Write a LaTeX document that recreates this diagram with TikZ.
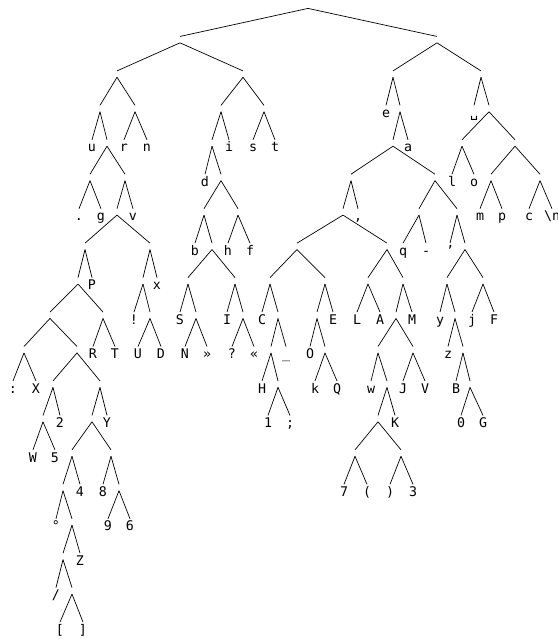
\documentclass[tikz,border=0pt]{standalone}
\usepackage{fontspec}
\newfontfamily\tfmono{DejaVu Sans Mono}
\tikzset{
  ibox/.style={inner sep=0pt, minimum height=6pt, minimum width=0pt, anchor=north, text height=0pt, text depth=0pt},
  lbox/.style={inner sep=0pt, anchor=north, text height=12pt, text depth=3pt, font=\tfmono\fontsize{13.3}{16}\selectfont},
  conn/.style={line width=0.7pt, black}
}
\newcommand\mkIn[3]{\node[ibox] (#1) at (#2,{2+34.45*#3}) {};}
\newcommand\mkLf[4]{\node[lbox] (#1) at (#2,{2+34.45*#3}) {#4};}
\newcommand\mkEd[3]{\draw[conn] (#1.south) -- (#2.north); \draw[conn] (#1.south) -- (#3.north);}
\begin{document}
\begin{tikzpicture}[x=1pt,y=-1pt]
\useasboundingbox (0,0) rectangle (557,639);
% level 0-3
\mkIn{R}{308}{0}
\mkIn{A}{180}{1} \mkIn{B}{437}{1}
\mkIn{Aa}{117}{2} \mkIn{Ab}{243}{2} \mkIn{Ba}{393}{2} \mkIn{Bb}{481}{2}
\mkIn{Aaa}{100}{3} \mkIn{Aab}{135}{3} \mkIn{Aba}{221}{3} \mkIn{Abb}{264}{3}
\mkLf{le}{386}{3}{e} \mkIn{Bab}{400}{3} \mkLf{lsp}{474}{3}{␣} \mkIn{Bbb}{489}{3}
% level 4
\mkLf{lu}{92}{4}{u} \mkIn{Aaab}{107}{4} \mkLf{lr}{124}{4}{r} \mkLf{ln}{147}{4}{n}
\mkIn{Abaa}{212}{4} \mkLf{li}{229}{4}{i} \mkLf{ls}{253}{4}{s} \mkLf{lt}{275}{4}{t}
\mkIn{Baba}{393}{4} \mkLf{la}{408}{4}{a} \mkIn{Bbba}{462}{4} \mkIn{Bbbb}{515}{4}
% level 5
\mkIn{Aaaba}{90}{5} \mkIn{Aaabb}{125}{5} \mkLf{ld}{205}{5}{d} \mkIn{Abaab}{221}{5}
\mkIn{Babaa}{351}{5} \mkIn{Babab}{435}{5} \mkLf{ll}{452}{5}{l} \mkLf{lo}{474}{5}{o}
\mkIn{Bbbba}{491}{5} \mkIn{Bbbbb}{540}{5}
% level 6
\mkLf{ldot}{79}{6}{.} \mkLf{lg}{101}{6}{g} \mkIn{Gv}{117}{6} \mkLf{lv}{133}{6}{v}
\mkIn{Dba}{204}{6} \mkIn{Dbb}{238}{6} \mkIn{Cm}{343}{6} \mkLf{lcomma}{358}{6}{,}
\mkIn{Qa}{419}{6} \mkIn{Qb}{457}{6} \mkLf{lm}{480}{6}{m} \mkLf{lp}{502}{6}{p}
\mkLf{lc}{529}{6}{c} \mkLf{lnl}{552}{6}{\textbackslash n}
% level 7
\mkIn{Pa}{85}{7} \mkIn{Pb}{150}{7} \mkLf{lb}{195}{7}{b} \mkIn{Sb}{212}{7}
\mkLf{lh}{228}{7}{h} \mkLf{lf}{250}{7}{f} \mkIn{Ca}{297}{7} \mkIn{Cb}{387}{7}
\mkLf{lq}{403}{7}{q} \mkLf{ldash}{426}{7}{-} \mkLf{lapos}{450}{7}{’} \mkIn{Yq}{465}{7}
% level 8
\mkIn{Paa}{78}{8} \mkLf{lP}{92}{8}{P} \mkIn{Pba}{143}{8} \mkLf{lx}{157}{8}{x}
\mkIn{Sba}{188}{8} \mkIn{Sbb}{235}{8} \mkIn{Caa}{270}{8} \mkIn{Cab}{325}{8}
\mkIn{Cba}{368}{8} \mkIn{Cbb}{403}{8} \mkIn{Yqa}{447}{8} \mkIn{Yqb}{483}{8}
% level 9
\mkIn{Paaa}{50}{9} \mkIn{Paab}{103}{9} \mkLf{lexcl}{134}{9}{!} \mkIn{Pbab}{150}{9}
\mkLf{lS}{180}{9}{S} \mkIn{Sbab}{196}{9} \mkLf{lI}{227}{9}{I} \mkIn{Sbbb}{243}{9}
\mkLf{lC}{262}{9}{C} \mkIn{Caab}{278}{9} \mkIn{Caba}{317}{9} \mkLf{lE}{333}{9}{E}
\mkLf{lL}{357}{9}{L} \mkLf{lA}{380}{9}{A} \mkIn{Cbba}{396}{9} \mkLf{lM}{412}{9}{M}
\mkLf{ly}{440}{9}{y} \mkIn{Yqab}{455}{9} \mkLf{lj}{472}{9}{j} \mkLf{lF}{494}{9}{F}
% level 10
\mkIn{Xa}{24}{10} \mkIn{Xb}{77}{10} \mkLf{lR}{93}{10}{R} \mkLf{lT}{115}{10}{T}
\mkLf{lU}{138}{10}{U} \mkLf{lD}{161}{10}{D} \mkLf{lN}{185}{10}{N} \mkLf{lraq}{207}{10}{»}
\mkLf{lques}{232}{10}{?} \mkLf{llaq}{254}{10}{«} \mkIn{Hh}{271}{10} \mkLf{lus}{286}{10}{\_}
\mkLf{lO}{310}{10}{O} \mkIn{Kq}{325}{10} \mkIn{Ww}{378}{10} \mkIn{Jv}{413}{10}
\mkLf{lz}{448}{10}{z} \mkIn{Zb}{463}{10}
% level 11
\mkLf{lcolon}{13}{11}{:} \mkLf{lX}{36}{11}{X} \mkIn{Xba}{53}{11} \mkIn{Xbb}{100}{11}
\mkLf{lH}{262}{11}{H} \mkIn{Hb}{278}{11} \mkLf{lk}{315}{11}{k} \mkLf{lQ}{337}{11}{Q}
\mkLf{lw}{371}{11}{w} \mkIn{Wb}{387}{11} \mkLf{lJ}{403}{11}{J} \mkLf{lV}{425}{11}{V}
\mkLf{lB}{456}{11}{B} \mkIn{Bz}{470}{11}
% level 12
\mkIn{Xbaa}{43}{12} \mkLf{ltwo}{60}{12}{2} \mkIn{Xbba}{92}{12} \mkLf{lY}{107}{12}{Y}
\mkLf{lone}{268}{12}{1} \mkLf{lsemi}{290}{12}{;} \mkIn{Wba}{378}{12} \mkLf{lK}{395}{12}{K}
\mkLf{lzero}{461}{12}{0} \mkLf{lG}{483}{12}{G}
% level 13
\mkLf{lW}{33}{13}{W} \mkLf{lfive}{55}{13}{5} \mkIn{Ya}{72}{13} \mkIn{Yb}{111}{13}
\mkIn{Ka}{355}{13} \mkIn{Kb}{401}{13}
% level 14
\mkIn{Yaa}{63}{14} \mkLf{lfour}{80}{14}{4} \mkLf{leight}{103}{14}{8} \mkIn{Ybb}{119}{14}
\mkLf{lseven}{344}{14}{7} \mkLf{llp}{367}{14}{(} \mkLf{lrp}{390}{14}{)} \mkLf{lthree}{413}{14}{3}
% level 15
\mkLf{ldeg}{56}{15}{°} \mkIn{Yaab}{72}{15} \mkLf{lnine}{108}{15}{9} \mkLf{lsix}{130}{15}{6}
% level 16
\mkIn{Zz}{63}{16} \mkLf{lZ}{80}{16}{Z}
% level 17
\mkLf{lslash}{56}{17}{/} \mkIn{Zzb}{72}{17}
% level 18
\mkLf{llb}{60}{18}{[} \mkLf{lrb}{83}{18}{]}
% edges
\mkEd{R}{A}{B}
\mkEd{A}{Aa}{Ab}
\mkEd{Aa}{Aaa}{Aab}
\mkEd{Aaa}{lu}{Aaab}
\mkEd{Aab}{lr}{ln}
\mkEd{Aaab}{Aaaba}{Aaabb}
\mkEd{Aaaba}{ldot}{lg}
\mkEd{Aaabb}{Gv}{lv}
\mkEd{Gv}{Pa}{Pb}
\mkEd{Pa}{Paa}{lP}
\mkEd{Paa}{Paaa}{Paab}
\mkEd{Paaa}{Xa}{Xb}
\mkEd{Xa}{lcolon}{lX}
\mkEd{Xb}{Xba}{Xbb}
\mkEd{Xba}{Xbaa}{ltwo}
\mkEd{Xbaa}{lW}{lfive}
\mkEd{Xbb}{Xbba}{lY}
\mkEd{Xbba}{Ya}{Yb}
\mkEd{Ya}{Yaa}{lfour}
\mkEd{Yaa}{ldeg}{Yaab}
\mkEd{Yaab}{Zz}{lZ}
\mkEd{Zz}{lslash}{Zzb}
\mkEd{Zzb}{llb}{lrb}
\mkEd{Yb}{leight}{Ybb}
\mkEd{Ybb}{lnine}{lsix}
\mkEd{Paab}{lR}{lT}
\mkEd{Pb}{Pba}{lx}
\mkEd{Pba}{lexcl}{Pbab}
\mkEd{Pbab}{lU}{lD}
\mkEd{Ab}{Aba}{Abb}
\mkEd{Aba}{Abaa}{li}
\mkEd{Abaa}{ld}{Abaab}
\mkEd{Abaab}{Dba}{Dbb}
\mkEd{Dba}{lb}{Sb}
\mkEd{Sb}{Sba}{Sbb}
\mkEd{Sba}{lS}{Sbab}
\mkEd{Sbab}{lN}{lraq}
\mkEd{Sbb}{lI}{Sbbb}
\mkEd{Sbbb}{lques}{llaq}
\mkEd{Dbb}{lh}{lf}
\mkEd{Abb}{ls}{lt}
\mkEd{B}{Ba}{Bb}
\mkEd{Ba}{le}{Bab}
\mkEd{Bab}{Baba}{la}
\mkEd{Baba}{Babaa}{Babab}
\mkEd{Babaa}{Cm}{lcomma}
\mkEd{Cm}{Ca}{Cb}
\mkEd{Ca}{Caa}{Cab}
\mkEd{Caa}{lC}{Caab}
\mkEd{Caab}{Hh}{lus}
\mkEd{Hh}{lH}{Hb}
\mkEd{Hb}{lone}{lsemi}
\mkEd{Cab}{Caba}{lE}
\mkEd{Caba}{lO}{Kq}
\mkEd{Kq}{lk}{lQ}
\mkEd{Cb}{Cba}{Cbb}
\mkEd{Cba}{lL}{lA}
\mkEd{Cbb}{Cbba}{lM}
\mkEd{Cbba}{Ww}{Jv}
\mkEd{Ww}{lw}{Wb}
\mkEd{Wb}{Wba}{lK}
\mkEd{Wba}{Ka}{Kb}
\mkEd{Ka}{lseven}{llp}
\mkEd{Kb}{lrp}{lthree}
\mkEd{Jv}{lJ}{lV}
\mkEd{Babab}{Qa}{Qb}
\mkEd{Qa}{lq}{ldash}
\mkEd{Qb}{lapos}{Yq}
\mkEd{Yq}{Yqa}{Yqb}
\mkEd{Yqa}{ly}{Yqab}
\mkEd{Yqab}{lz}{Zb}
\mkEd{Zb}{lB}{Bz}
\mkEd{Bz}{lzero}{lG}
\mkEd{Yqb}{lj}{lF}
\mkEd{Bb}{lsp}{Bbb}
\mkEd{Bbb}{Bbba}{Bbbb}
\mkEd{Bbba}{ll}{lo}
\mkEd{Bbbb}{Bbbba}{Bbbbb}
\mkEd{Bbbba}{lm}{lp}
\mkEd{Bbbbb}{lc}{lnl}
\end{tikzpicture}
\end{document}
